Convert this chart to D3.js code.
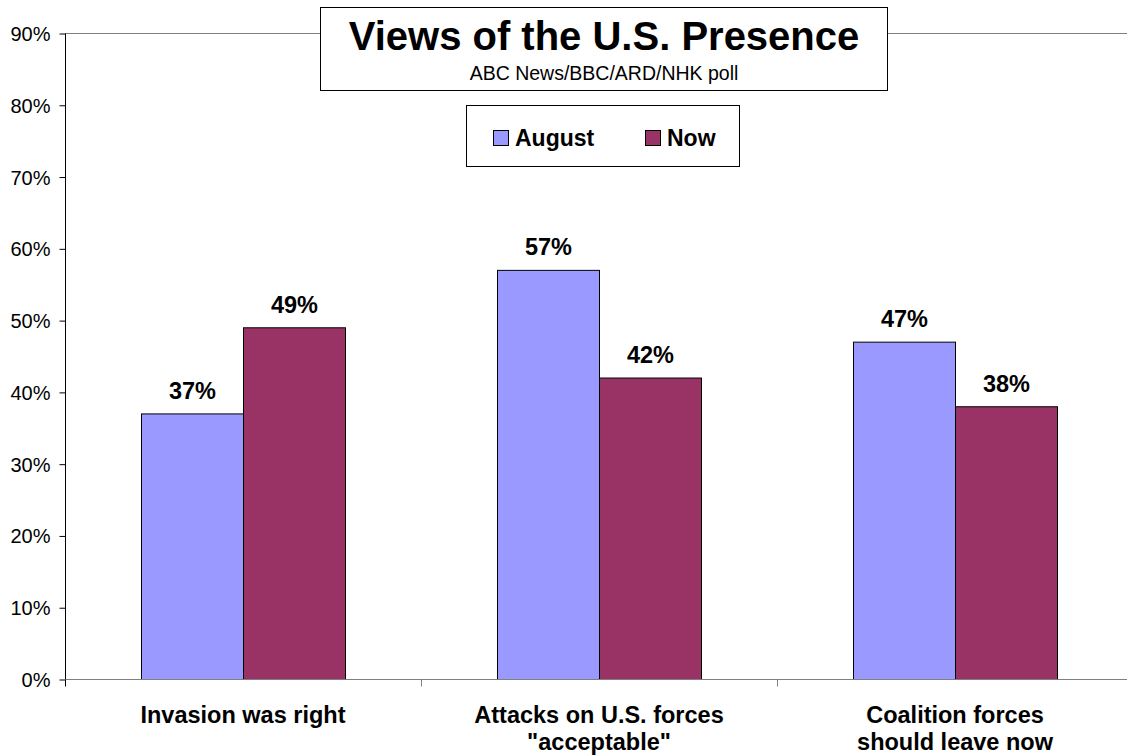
<!DOCTYPE html>
<html><head><meta charset="utf-8">
<script src="https://cdn.jsdelivr.net/npm/d3@7"></script>
<style>body{margin:0;background:#fff}svg{display:block;font-family:"Liberation Sans",Arial,sans-serif}</style>
</head><body><svg id="c" width="1127" height="755"></svg>
<script>
const categories = [["Invasion was right"], ["Attacks on U.S. forces", "\"acceptable\""], ["Coalition forces", "should leave now"]];
const seriesNames = ["August", "Now"];
const august = [37, 57, 47];
const now = [49, 42, 38];
const yTicks = [0,10,20,30,40,50,60,70,80,90];
const colors = ["#9999FF", "#993366"];

const svg = d3.select("#c");
const x0 = d3.scaleBand().domain(d3.range(categories.length)).range([65, 1133]).paddingInner(0).paddingOuter(0);
const y = d3.scaleLinear().domain([0, 90]).range([679.5, 33.5]);
const barW = 102;

// top gridline
svg.append("line").attr("x1",65).attr("x2",1127).attr("y1",y(90)).attr("y2",y(90)).attr("stroke","#808080").attr("stroke-width",1);

// y axis
const yAxis = d3.axisLeft(y).tickValues(yTicks).tickSize(6).tickFormat(d=>d+"%");
const gy = svg.append("g").attr("transform","translate(65.5,0)").call(yAxis);
gy.select(".domain").attr("stroke","#000").attr("d","M0,"+y(90)+"V"+y(0));
gy.selectAll(".tick line").attr("stroke","#000");
gy.selectAll(".tick text").attr("font-size",20).attr("fill","#000").attr("font-family","Liberation Sans, Arial, sans-serif").attr("x",-15).attr("dy","0.35em");

// bars
const data = categories.map((c,i)=>({i, vals:[august[i], now[i]]}));
const g = svg.append("g");
data.forEach(d=>{
  const cx = x0(d.i) + x0.bandwidth()/2;
  d.vals.forEach((v,s)=>{
    const bx = cx - barW + s*barW;
    g.append("rect").attr("x",bx+0.5).attr("y",y(v)).attr("width",barW).attr("height",y(0)-y(v))
      .attr("fill",colors[s]).attr("stroke","#000").attr("stroke-width",1);
    g.append("text").attr("x",bx+barW/2+0.5).attr("y",y(v)-15).attr("text-anchor","middle")
      .attr("font-size",23.5).attr("font-weight","bold").text(v+"%");
  });
});

// x axis
const xAxis = d3.axisBottom(x0).tickSize(0).tickFormat("");
const gx = svg.append("g").attr("transform","translate(0,"+y(0)+")").call(xAxis);
gx.select(".domain").attr("stroke","#808080").attr("d","M65,0H1127");
[0,1,2,3].forEach(k=>{
  const xx = 65 + k*x0.bandwidth() + 0.5;
  svg.append("line").attr("x1",xx).attr("x2",xx).attr("y1",y(0)).attr("y2",y(0)+7).attr("stroke", k===0?"#000":"#808080");
});
categories.forEach((c,i)=>{
  const cx = x0(i)+x0.bandwidth()/2;
  c.forEach((line,j)=>{
    svg.append("text").attr("x",cx).attr("y",723+j*27).attr("text-anchor","middle")
      .attr("font-size",23.5).attr("font-weight","bold").text(line);
  });
});

// title box
svg.append("rect").attr("x",320.5).attr("y",7.5).attr("width",567).attr("height",83).attr("fill","#fff").attr("stroke","#000").attr("stroke-width",1);
svg.append("text").attr("x",604).attr("y",50).attr("text-anchor","middle").attr("font-size",40).attr("font-weight","bold").text("Views of the U.S. Presence");
svg.append("text").attr("x",604).attr("y",80).attr("text-anchor","middle").attr("font-size",19.5).text("ABC News/BBC/ARD/NHK poll");

// legend
svg.append("rect").attr("x",466.5).attr("y",105.5).attr("width",273).attr("height",61).attr("fill","#fff").attr("stroke","#000");
const legX = [493, 645];
seriesNames.forEach((n,s)=>{
  svg.append("rect").attr("x",legX[s]+0.5).attr("y",130.5).attr("width",15).attr("height",15).attr("fill",colors[s]).attr("stroke","#000");
  svg.append("text").attr("x",legX[s]+22).attr("y",146).attr("font-size",23).attr("font-weight","bold").text(n);
});
</script></body></html>
